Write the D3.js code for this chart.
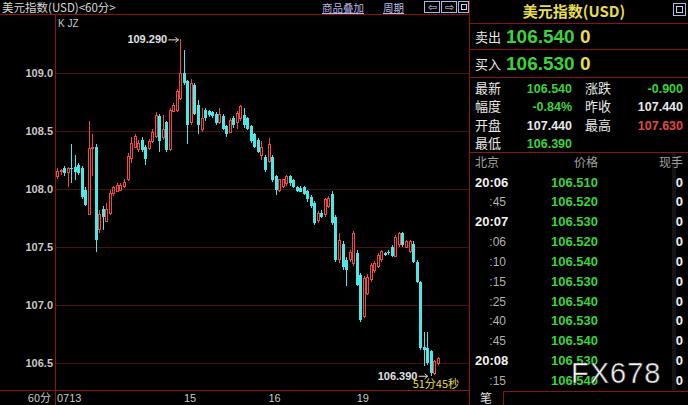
<!DOCTYPE html>
<html><head><meta charset="utf-8">
<script src="https://cdn.jsdelivr.net/npm/d3@7"></script>
<style>
html,body{margin:0;padding:0;background:#000;overflow:hidden;}
svg{display:block;}
text{font-family:"Liberation Sans",Arial,sans-serif;}
.cjk{font-family:"Noto Sans CJK SC","Liberation Sans",sans-serif;}
</style></head>
<body>
<svg id="c" width="688" height="405"></svg>
<script>
// ---------- data ----------
const opens = [108.11,108.15,108.18,108.14,108.18,108.19,108.21,108.18,107.99,107.78,
108.35,108.36,107.65,107.83,107.72,107.79,107.96,107.98,107.99,108.02,
108.08,108.26,108.36,108.34,108.42,108.36,108.35,108.41,108.45,108.63,
108.44,108.58,108.34,108.67,108.68,108.78,109.00,108.93,108.57,108.90,
108.72,108.51,108.68,108.67,108.66,108.65,108.57,108.63,108.54,108.49,
108.61,108.57,108.61,108.64,108.61,108.54,108.47,108.42,108.29,108.28,
108.24,108.28,108.11,107.99,108.02,108.05,108.11,108.08,108.02,108.01,
108.02,107.98,107.93,107.88,107.73,107.79,107.78,107.85,107.96,107.76,
107.39,107.53,107.39,107.39,107.36,107.45,107.26,106.90,107.10,107.22,
107.30,107.33,107.39,107.45,107.46,107.50,107.42,107.52,107.62,107.50,
107.46,107.53,107.37,107.20,106.64,106.63,106.60,106.41,106.50];
const closes = [108.15,108.16,108.14,108.18,108.17,108.15,108.14,107.93,107.86,108.35,
108.36,107.56,107.78,107.76,107.82,107.96,108.01,108.03,108.03,108.06,
108.28,108.39,108.45,108.39,108.34,108.26,108.41,108.49,108.63,108.41,
108.51,108.34,108.68,108.72,108.84,109.00,108.91,108.55,108.91,108.65,
108.55,108.61,108.61,108.64,108.63,108.57,108.64,108.52,108.47,108.59,
108.55,108.65,108.71,108.55,108.52,108.41,108.36,108.32,108.36,108.16,
108.38,108.08,107.99,108.08,108.08,108.11,108.05,108.02,107.98,107.97,
107.96,107.91,107.85,107.71,107.79,107.76,107.91,107.92,107.71,107.39,
107.56,107.33,107.30,107.45,107.62,107.17,106.87,107.23,107.24,107.34,
107.36,107.43,107.46,107.43,107.45,107.42,107.58,107.62,107.52,107.55,
107.55,107.37,107.20,106.63,106.61,106.50,106.41,106.51,106.54];
const highs = [108.18,108.17,108.20,108.19,108.39,108.29,108.22,108.20,108.02,108.59,
108.47,108.39,107.82,107.85,107.88,107.99,108.03,108.05,108.05,108.09,
108.31,108.45,108.47,108.42,108.45,108.38,108.43,108.52,108.66,108.65,
108.64,108.59,108.70,108.74,108.86,109.29,109.20,108.94,108.95,108.91,
108.77,108.70,108.70,108.68,108.67,108.66,108.70,108.65,108.55,108.61,
108.63,108.67,108.72,108.70,108.62,108.55,108.48,108.44,108.41,108.29,
108.44,108.29,108.12,108.09,108.09,108.12,108.12,108.09,108.03,108.03,
108.03,107.99,107.95,107.90,107.81,107.82,107.92,107.94,107.98,107.78,
107.62,107.55,107.41,107.47,107.64,107.47,107.28,107.25,107.27,107.36,
107.38,107.45,107.47,107.46,107.47,107.52,107.60,107.63,107.63,107.56,
107.56,107.55,107.39,107.21,106.77,106.77,106.61,106.53,106.55];
const lows = [108.09,108.12,108.11,108.02,108.05,108.08,108.12,107.91,107.85,107.78,
108.11,107.46,107.62,107.65,107.72,107.78,107.94,107.97,107.98,108.01,
108.07,108.22,108.35,108.32,108.32,108.21,108.34,108.40,108.44,108.32,
108.42,108.32,108.33,108.66,108.66,108.77,108.90,108.39,108.55,108.64,
108.47,108.49,108.59,108.62,108.61,108.55,108.56,108.51,108.45,108.48,
108.53,108.52,108.59,108.53,108.51,108.40,108.35,108.31,108.25,108.15,
108.22,108.06,107.95,107.97,108.01,108.03,108.03,108.01,107.97,107.97,
107.95,107.89,107.84,107.69,107.71,107.75,107.76,107.84,107.69,107.37,
107.36,107.30,107.16,107.37,107.34,107.16,106.85,106.89,107.09,107.20,
107.28,107.32,107.37,107.42,107.43,107.41,107.41,107.50,107.50,107.49,
107.45,107.36,107.19,106.61,106.47,106.48,106.39,106.40,106.48];
const yTicks = [106.5,107.0,107.5,108.0,108.5,109.0];
const dateLabels = ["0713","15","16","19"];
const dateIndex = [0,36,60,85];
const highLabel = "109.290", lowLabel = "106.390", countdown = "51分45秒";
const quoteNames = ["卖出","买入"];
const quotePrices = ["106.540","106.530"];
const quoteChanges = ["0","0"];
const statNamesL = ["最新","幅度","开盘","最低"];
const statValsL = ["106.540","-0.84%","107.440","106.390"];
const statColsL = ["g","g","w","g"];
const statNamesR = ["涨跌","昨收","最高",""];
const statValsR = ["-0.900","107.440","107.630",""];
const statColsR = ["g","w","r",""];
const tickHeaders = ["北京","价格","现手"];
const tickTimes = ["20:06",":45","20:07",":06",":10",":15",":25",":40",":45","20:08",":15"];
const tickPrices = ["106.510","106.520","106.530","106.520","106.540","106.530","106.540","106.530","106.540","106.530","106.540"];
const tickVols = ["0","0","0","0","0","0","0","0","0","0","0"];

// ---------- drawing ----------
const svg = d3.select("#c");
const RED_LINE = "#8a1414", GRID = "#4a1212";
const UP = "#f04848", DOWN = "#50e6e6";
const GREEN = "#3cd23c", YEL = "#e6dc50";
svg.append("rect").attr("width",688).attr("height",405).attr("fill","#000");

const x = d3.scalePoint().domain(d3.range(opens.length)).range([57, 437.7]);
const y = d3.scaleLinear().domain([106.5, 109.0]).range([363, 73]);

// header
svg.append("text").attr("class","cjk").attr("x",2).attr("y",12).attr("fill","#d8d8d8")
  .attr("font-size",11.5).text("美元指数(USD)<60分>");
svg.append("text").attr("class","cjk").attr("x",322).attr("y",12).attr("fill","#b8b8e8")
  .attr("font-size",10.5).attr("text-decoration","underline").text("商品叠加");
svg.append("text").attr("class","cjk").attr("x",383).attr("y",12).attr("fill","#b8b8e8")
  .attr("font-size",10.5).attr("text-decoration","underline").text("周期");
[[424,16,"⇦"],[441,16,"⇨"],[458,11,""]].forEach(([bx,bw,s])=>{
  svg.append("rect").attr("x",bx+0.5).attr("y",1.5).attr("width",bw-1).attr("height",11)
    .attr("fill","none").attr("stroke","#a8b8e8").attr("stroke-width",1);
  if(s) svg.append("text").attr("x",bx+bw/2).attr("y",11).attr("text-anchor","middle")
    .attr("fill","#c8d4f0").attr("font-size",11).attr("font-family","DejaVu Sans").text(s);
});
svg.append("rect").attr("x",461.5).attr("y",4.5).attr("width",5).attr("height",5)
  .attr("fill","none").attr("stroke","#c8d4f0");

// frame lines
svg.append("line").attr("x1",0).attr("x2",470).attr("y1",14.5).attr("y2",14.5).attr("stroke",RED_LINE);
svg.append("line").attr("x1",55.5).attr("x2",55.5).attr("y1",14).attr("y2",405).attr("stroke",RED_LINE);
svg.append("line").attr("x1",0).attr("x2",470).attr("y1",390.5).attr("y2",390.5).attr("stroke",RED_LINE);
svg.append("line").attr("x1",469.5).attr("x2",469.5).attr("y1",0).attr("y2",405).attr("stroke",RED_LINE);

svg.append("text").attr("x",58).attr("y",27).attr("fill","#c8c8c8").attr("font-size",10).text("K  JZ");

// grid + y axis
const gridG = svg.append("g");
gridG.selectAll("line").data(yTicks).join("line")
  .attr("x1",56).attr("x2",469).attr("y1",d=>Math.round(y(d))+0.5).attr("y2",d=>Math.round(y(d))+0.5)
  .attr("stroke",GRID);
const yAxis = svg.append("g").attr("transform","translate(53,0)")
  .call(d3.axisLeft(y).tickValues(yTicks).tickFormat(d3.format(".1f")).tickSize(0).tickPadding(0));
yAxis.select(".domain").remove();
yAxis.selectAll("text").attr("fill","#c8c8c8").attr("font-size",11).attr("font-weight","bold")
  .attr("font-family","Liberation Sans, Arial, sans-serif");

// x labels
svg.append("text").attr("class","cjk").attr("x",51).attr("y",402).attr("text-anchor","end")
  .attr("fill","#c8c8c8").attr("font-size",11).text("60分");
svg.selectAll(".xl").data(dateLabels).join("text").attr("class","xl")
  .attr("x",(d,i)=>x(dateIndex[i])).attr("y",402).attr("fill","#c8c8c8").attr("font-size",11).text(d=>d);

// candles
const data = opens.map((o,i)=>({i,o,c:closes[i],h:highs[i],l:lows[i]}));
const cg = svg.append("g").attr("shape-rendering","crispEdges");
data.forEach(d=>{
  const cx = Math.round(x(d.i)) + 0.5;
  const up = d.c >= d.o;
  const col = up ? UP : DOWN;
  cg.append("line").attr("x1",cx).attr("x2",cx).attr("y1",y(d.h)).attr("y2",y(d.l)).attr("stroke",col);
  const top = y(Math.max(d.o,d.c)), bot = y(Math.min(d.o,d.c));
  const hgt = Math.max(1, bot-top);
  if(up){
    cg.append("rect").attr("x",cx-1).attr("y",top).attr("width",2).attr("height",hgt)
      .attr("fill","#000").attr("stroke",col).attr("stroke-width",1);
  } else {
    cg.append("rect").attr("x",cx-1.5).attr("y",top).attr("width",3).attr("height",hgt).attr("fill",col);
  }
});

// high / low annotations
const hiIdx = d3.maxIndex(highs), loIdx = d3.minIndex(lows);
const hx = x(hiIdx), hy = y(highs[hiIdx]);
svg.append("text").attr("x",hx-53).attr("y",hy+4).attr("fill","#e0e0e0").attr("font-size",11)
  .attr("font-weight","bold").text(highLabel);
svg.append("path").attr("d",`M${hx-12},${hy+0.5}H${hx-2}`).attr("stroke","#e0e0e0");
svg.append("path").attr("d",`M${hx-5},${hy-2}L${hx-2},${hy+0.5}L${hx-5},${hy+3}`).attr("stroke","#e0e0e0").attr("fill","none");
const lx = x(loIdx), ly = y(lows[loIdx]);
svg.append("text").attr("x",lx-53).attr("y",ly+4).attr("fill","#e0e0e0").attr("font-size",11)
  .attr("font-weight","bold").text(lowLabel);
svg.append("path").attr("d",`M${lx-12},${ly+0.5}H${lx-3}`).attr("stroke","#e0e0e0");
svg.append("path").attr("d",`M${lx-6},${ly-2}L${lx-3},${ly+0.5}L${lx-6},${ly+3}`).attr("stroke","#e0e0e0").attr("fill","none");
svg.append("text").attr("class","cjk").attr("x",lx-18).attr("y",ly+12).attr("fill",YEL).attr("font-size",11).text(countdown);

// ---------- right panel ----------
const RX = 470;
svg.append("text").attr("class","cjk").attr("x",574).attr("y",17).attr("text-anchor","middle")
  .attr("fill",YEL).attr("font-size",15).attr("font-weight","bold").text("美元指数(USD)");
svg.append("rect").attr("x",673.5).attr("y",3.5).attr("width",12).attr("height",12).attr("fill","none").attr("stroke","#a8b8e8");
svg.append("rect").attr("x",676.5).attr("y",6.5).attr("width",6).attr("height",6).attr("fill","none").attr("stroke","#c8d4f0");
[23.5,49.5,77.5,152.5].forEach(ly2=>{
  svg.append("line").attr("x1",RX).attr("x2",688).attr("y1",ly2).attr("y2",ly2).attr("stroke",RED_LINE);
});
quoteNames.forEach((n,i)=>{
  const cy = 42 + i*27;
  svg.append("text").attr("class","cjk").attr("x",475).attr("y",cy).attr("fill","#e8e8e8").attr("font-size",13).text(n);
  svg.append("text").attr("x",506).attr("y",cy+1).attr("fill",GREEN).attr("font-size",19).attr("font-weight","bold").text(quotePrices[i]);
  svg.append("text").attr("x",580).attr("y",cy+1).attr("fill",YEL).attr("font-size",19).attr("font-weight","bold").text(quoteChanges[i]);
});
const colMap = {g:GREEN,w:"#e8e8e8",r:"#e04848"};
statNamesL.forEach((n,i)=>{
  const cy = 93 + i*18.4;
  svg.append("text").attr("class","cjk").attr("x",475).attr("y",cy).attr("fill","#e8e8e8").attr("font-size",13).text(n);
  svg.append("text").attr("x",572).attr("y",cy).attr("text-anchor","end").attr("fill",colMap[statColsL[i]])
    .attr("font-size",12.5).attr("font-weight","bold").text(statValsL[i]);
  if(statNamesR[i]){
    svg.append("text").attr("class","cjk").attr("x",585).attr("y",cy).attr("fill","#e8e8e8").attr("font-size",13).text(statNamesR[i]);
    svg.append("text").attr("x",683).attr("y",cy).attr("text-anchor","end").attr("fill",colMap[statColsR[i]])
      .attr("font-size",12.5).attr("font-weight","bold").text(statValsR[i]);
  }
});
// scrollbar strip
svg.append("rect").attr("x",672).attr("y",153).attr("width",4).attr("height",237).attr("fill","#141414");
// ticks table
svg.append("text").attr("class","cjk").attr("x",475).attr("y",167).attr("fill","#a0a0a0").attr("font-size",12).text(tickHeaders[0]);
svg.append("text").attr("class","cjk").attr("x",598).attr("y",167).attr("text-anchor","end").attr("fill","#a0a0a0").attr("font-size",12).text(tickHeaders[1]);
svg.append("text").attr("class","cjk").attr("x",683).attr("y",167).attr("text-anchor","end").attr("fill","#a0a0a0").attr("font-size",12).text(tickHeaders[2]);
tickTimes.forEach((t,i)=>{
  const cy = 186.5 + i*19.85;
  const full = t.length > 3;
  svg.append("text").attr("x",full?475:506).attr("text-anchor",full?"start":"end").attr("y",cy)
    .attr("fill",full?"#f0f0f0":"#b0b0b0").attr("font-size",full?13:12).attr("font-weight",full?"bold":"normal").text(t);
  svg.append("text").attr("x",598).attr("y",cy).attr("text-anchor","end").attr("fill",GREEN)
    .attr("font-size",13).attr("font-weight","bold").text(tickPrices[i]);
  svg.append("text").attr("x",683).attr("y",cy).attr("text-anchor","end").attr("fill","#f0f0f0")
    .attr("font-size",13).attr("font-weight","bold").text(tickVols[i]);
});
// bottom tab
svg.append("path").attr("d","M503.5,405V391.5H688").attr("stroke",RED_LINE).attr("fill","none");
svg.append("text").attr("class","cjk").attr("x",480).attr("y",403).attr("fill","#e0e0e0").attr("font-size",12).text("笔");
// watermark
svg.append("text").attr("x",571).attr("y",383).attr("fill","#f4f4f4").attr("stroke","#303030").attr("stroke-width",0.6)
  .attr("font-size",29).attr("font-family","Liberation Sans, Arial, sans-serif").attr("letter-spacing",1).text("FX678");
</script>
</body></html>
